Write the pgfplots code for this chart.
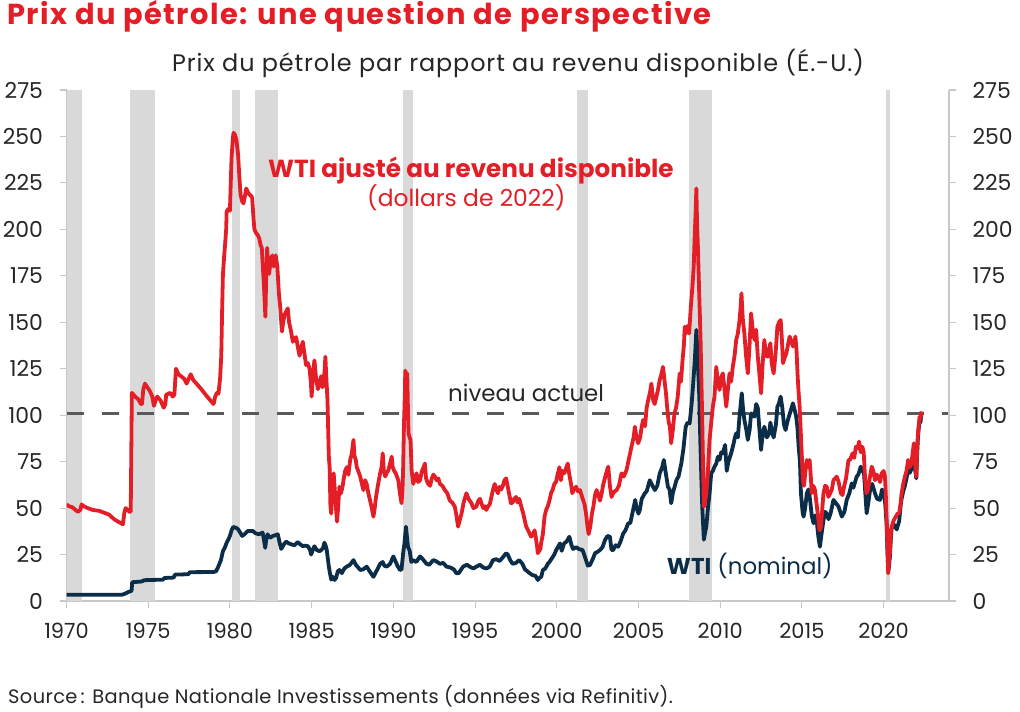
\documentclass[border=0pt]{standalone}
\usepackage{pgfplots}
\pgfplotsset{compat=1.18}
\usepackage{pgfplotstable}
\usepackage{fontspec}
\setmainfont{Poppins}
\definecolor{wtired}{HTML}{E41E26}
\definecolor{wtinavy}{HTML}{0C2D48}
\definecolor{bandgray}{HTML}{D9D9D9}
\definecolor{dashgray}{HTML}{5A5A5A}
\definecolor{axisgray}{HTML}{C8C8C8}
\definecolor{txt}{HTML}{262626}

\pgfplotstableread{
x y
1970.00 52
1970.15 51
1970.35 50.5
1970.55 49
1970.70 48
1970.85 49
1970.92 52
1971.05 51
1971.3 50
1971.6 49
1972.0 48.5
1972.3 47.5
1972.6 46.5
1972.85 44.5
1973.0 43.5
1973.3 42
1973.45 41.3
1973.55 48
1973.62 50
1973.75 49
1973.85 48
1973.93 48
1974.0 112
1974.2 110
1974.4 108.5
1974.55 106
1974.62 106
1974.7 114
1974.8 117
1974.95 115
1975.1 113
1975.25 110
1975.35 105
1975.45 108
1975.55 110
1975.75 108
1975.95 104
1976.05 106
1976.1 111
1976.35 112
1976.5 110
1976.6 111
1976.7 125
1976.85 122
1977.0 121
1977.2 119.6
1977.35 117
1977.5 120
1977.6 122
1977.75 119
1977.95 117
1978.25 114
1978.55 110.6
1978.8 108
1979.0 106
1979.1 110
1979.2 112
1979.3 111.5
1979.4 120
1979.47 132
1979.52 155
1979.57 175.5
1979.65 186
1979.71 192.6
1979.77 200
1979.8 209.7
1979.9 211
1980.0 210
1980.05 225
1980.1 238.6
1980.18 249
1980.22 252
1980.3 251
1980.4 248
1980.5 240
1980.58 228
1980.65 218.7
1980.75 215
1980.83 214
1980.92 218
1981.0 222
1981.1 220
1981.2 218.7
1981.3 218
1981.36 217
1981.45 205
1981.5 200
1981.6 198
1981.7 197
1981.8 195
1981.87 191.7
1981.95 190
1982.0 182
1982.08 170
1982.13 160
1982.17 153
1982.22 175
1982.28 190
1982.33 182
1982.4 176
1982.5 184
1982.6 186
1982.67 180
1982.73 183
1982.8 186
1982.9 180
1983.0 165
1983.08 158
1983.18 145
1983.26 150
1983.34 154
1983.45 156
1983.54 157.5
1983.62 150
1983.72 146
1983.85 139.5
1983.95 141
1984.05 142
1984.15 137
1984.26 132
1984.36 136
1984.46 139.5
1984.56 133
1984.66 127
1984.77 128
1984.87 125
1984.95 118
1985.0 110
1985.08 122
1985.17 129.5
1985.27 120
1985.38 114
1985.48 117
1985.58 121
1985.66 115
1985.74 117.8
1985.8 125
1985.84 131.5
1985.9 120
1985.97 108
1986.05 78
1986.1 72
1986.15 51
1986.2 47
1986.27 65
1986.35 68.7
1986.45 55
1986.55 42.7
1986.62 50
1986.7 61.5
1986.8 58
1986.9 62
1986.95 65
1987.05 70
1987.15 72
1987.25 68
1987.36 76
1987.45 79
1987.56 86.7
1987.62 78
1987.7 76
1987.76 72
1987.85 70
1987.97 67
1988.05 64
1988.17 59.7
1988.27 65
1988.37 63
1988.47 58
1988.58 54
1988.68 50
1988.78 45.4
1988.86 50
1988.94 56
1989.05 62
1989.19 68.7
1989.28 72
1989.35 79.5
1989.42 70
1989.5 67
1989.6 69
1989.7 70.5
1989.8 74
1989.9 77.7
1989.96 72
1990.05 70
1990.15 68.7
1990.3 65
1990.4 58
1990.5 52.6
1990.56 60
1990.6 72
1990.65 95
1990.7 110
1990.73 124
1990.8 118
1990.85 122.5
1990.9 100
1990.93 90
1991.0 88
1991.05 86.7
1991.12 70
1991.22 63
1991.3 66
1991.42 68.7
1991.52 64
1991.63 65
1991.75 70
1991.85 72
1991.93 74
1992.0 66
1992.13 63
1992.25 62
1992.35 66
1992.45 68
1992.54 67
1992.65 65
1992.75 66
1992.85 63
1993.0 62
1993.15 59.7
1993.3 58
1993.46 54
1993.6 53
1993.76 50.8
1993.86 46
1993.96 40
1994.05 43
1994.17 47
1994.3 53
1994.47 58
1994.6 55
1994.78 52.6
1994.9 50
1995.08 50.8
1995.2 54
1995.3 55
1995.39 52.6
1995.5 50
1995.6 51
1995.69 49
1995.8 51
1995.9 52
1996.0 56
1996.1 60
1996.2 63
1996.3 60
1996.4 58
1996.5 61.5
1996.6 60
1996.7 62
1996.8 65
1996.9 66
1997.0 61.5
1997.1 57
1997.2 52.6
1997.3 53
1997.4 55
1997.5 56
1997.6 53
1997.7 55
1997.83 50.8
1997.95 47
1998.05 43
1998.13 40
1998.25 38
1998.35 36
1998.43 34.6
1998.55 36
1998.64 38
1998.72 34
1998.8 29
1998.84 25.7
1998.92 27
1999.0 28
1999.04 31
1999.15 36
1999.25 45.4
1999.35 49
1999.45 51
1999.55 54
1999.65 58
1999.75 60
1999.85 63
1999.95 64
2000.05 68
2000.16 72
2000.25 65
2000.35 70
2000.46 68.7
2000.55 71
2000.67 74
2000.75 69
2000.87 63
2000.95 58
2001.05 60
2001.18 61.5
2001.3 59
2001.42 59.7
2001.55 56
2001.7 52
2001.79 47
2001.88 40
2001.95 36
2002.05 40
2002.15 47
2002.24 50.8
2002.34 57
2002.44 59.7
2002.55 57
2002.64 54
2002.75 58
2002.85 63
2003.0 68
2003.1 71
2003.15 72.3
2003.25 62
2003.35 56
2003.45 58
2003.55 59
2003.66 59.7
2003.8 62
2003.96 68.7
2004.1 67
2004.27 70.5
2004.4 76
2004.5 80
2004.57 83
2004.7 88
2004.78 93.8
2004.88 88
2004.98 84.9
2005.1 88
2005.2 94
2005.28 97.4
2005.4 94
2005.5 104
2005.59 108
2005.7 112
2005.79 117
2005.9 108
2005.99 106
2006.1 110
2006.2 114
2006.3 119
2006.4 122
2006.5 126
2006.6 118
2006.68 112
2006.75 104.6
2006.85 96
2006.92 94
2007.0 84.9
2007.1 92
2007.2 101
2007.3 104
2007.4 110
2007.52 122.5
2007.6 118
2007.7 130
2007.78 138
2007.83 147.6
2007.92 144
2008.0 148
2008.1 144
2008.2 158
2008.3 169
2008.38 180
2008.43 194.3
2008.5 210
2008.54 222
2008.58 205
2008.64 189
2008.7 170
2008.74 158.4
2008.8 140
2008.84 122.5
2008.9 98
2008.94 77.7
2009.0 50.8
2009.05 52
2009.15 58
2009.25 70
2009.35 86.7
2009.45 96
2009.55 104.6
2009.65 110
2009.76 126
2009.85 118
2009.96 113.6
2010.05 120
2010.16 122.5
2010.25 115
2010.37 104.6
2010.45 112
2010.57 122.5
2010.67 118
2010.77 126
2010.88 132
2010.98 140.5
2011.08 144
2011.18 151
2011.25 158
2011.3 165.6
2011.38 152
2011.48 144
2011.58 132
2011.69 122.5
2011.78 135
2011.89 154.8
2012.0 145
2012.1 140.5
2012.2 146
2012.3 131.5
2012.4 122
2012.5 111.8
2012.6 128
2012.7 140.5
2012.8 132
2012.9 131.5
2013.0 136
2013.07 138.7
2013.15 128
2013.27 122.5
2013.38 132
2013.5 147.6
2013.6 150
2013.7 151.2
2013.78 140
2013.84 128
2013.95 131
2014.05 133.3
2014.15 138
2014.25 142.3
2014.35 140
2014.45 137
2014.55 139
2014.6 142.3
2014.67 135
2014.74 120.7
2014.8 112
2014.86 104.6
2014.96 84.9
2015.06 65
2015.13 62
2015.2 68.7
2015.3 75.9
2015.4 72
2015.47 75.9
2015.55 66
2015.6 58
2015.7 62
2015.8 59.7
2015.9 52
2016.0 44.3
2016.08 38
2016.16 40
2016.25 50
2016.32 58
2016.42 62
2016.52 61.5
2016.62 56
2016.73 58
2016.83 60
2016.93 65
2017.03 66
2017.13 66.9
2017.25 64
2017.38 58
2017.48 57
2017.58 61.5
2017.7 66
2017.85 75.9
2017.95 76
2018.1 79.5
2018.2 77
2018.3 83
2018.4 82
2018.5 85.8
2018.6 80
2018.7 83
2018.78 80
2018.86 66.9
2018.95 58
2019.05 60
2019.15 66
2019.27 72.3
2019.37 70
2019.47 65
2019.57 68
2019.67 66.9
2019.78 64
2019.88 68.7
2020.0 70
2020.08 66.9
2020.13 58
2020.18 44.3
2020.23 30
2020.28 14.9
2020.33 22
2020.38 25.7
2020.45 38
2020.55 41.8
2020.65 44
2020.75 45.4
2020.85 47
2020.95 47.2
2021.03 52
2021.1 58
2021.2 63
2021.3 66.9
2021.4 70
2021.5 75.9
2021.6 72
2021.7 74
2021.78 80
2021.85 84.9
2021.92 74
2022.0 66.9
2022.05 82
2022.1 90.2
2022.15 95
2022.2 99.2
2022.25 98
2022.32 102
}\realtable

\pgfplotstableread{
x y
1970.0 3.4
1973.4 3.4
1973.6 4.0
1973.75 4.7
1973.9 5.2
1973.98 5.5
1974.02 10.1
1974.6 10.5
1974.75 11.2
1975.9 11.5
1976.0 12.4
1976.55 12.6
1976.65 14.2
1977.45 14.4
1977.55 15.5
1979.0 15.6
1979.15 16
1979.3 18.7
1979.45 22
1979.57 26.8
1979.7 29
1979.8 31.4
1979.9 33
1980.0 35
1980.1 38
1980.2 39.8
1980.35 39.5
1980.5 38.6
1980.65 36.5
1980.75 35
1980.9 36
1981.1 37.7
1981.4 37.7
1981.55 36.5
1981.77 35.9
1982.0 36.8
1982.08 33
1982.16 28.6
1982.22 33
1982.3 35.9
1982.45 34
1982.63 35
1982.8 35.5
1982.93 35.9
1983.05 31
1983.14 28
1983.3 30.5
1983.44 32
1983.6 31
1983.75 30.5
1983.95 30
1984.15 31.7
1984.3 30.5
1984.46 29.5
1984.6 29.8
1984.77 29.5
1984.9 27.5
1984.97 25
1985.07 27.5
1985.17 29.5
1985.3 27.5
1985.48 26.8
1985.6 27.5
1985.7 28.5
1985.78 31.4
1985.85 30
1985.92 27.7
1986.05 18.7
1986.12 15
1986.2 11.5
1986.3 13
1986.4 11.3
1986.5 12.5
1986.6 16
1986.7 16.7
1986.85 15
1987.0 17.5
1987.15 18.5
1987.35 19.5
1987.56 22
1987.7 19.5
1987.85 18
1987.97 16.7
1988.15 17
1988.37 18.5
1988.55 16
1988.78 13
1988.9 15
1989.05 17.5
1989.19 20
1989.35 21
1989.45 19
1989.6 18.5
1989.8 20
1990.0 24
1990.1 22
1990.25 19
1990.4 16.7
1990.5 17
1990.6 25.7
1990.68 31
1990.77 40
1990.85 33
1990.9 29
1991.0 27
1991.1 21
1991.2 22
1991.4 21
1991.63 24
1991.8 22.5
1992.03 20
1992.2 19.5
1992.44 22
1992.6 21.5
1992.85 20
1993.05 20.5
1993.25 18.5
1993.5 18
1993.7 17
1993.86 14.9
1994.0 15
1994.27 18.5
1994.5 19.5
1994.67 18.5
1994.9 17.5
1995.08 18.5
1995.3 19.5
1995.5 18
1995.7 17.5
1995.9 18.5
1996.1 22
1996.3 22.5
1996.5 21.5
1996.7 23.5
1996.9 25.7
1997.0 25
1997.15 22
1997.3 20
1997.5 20.5
1997.7 22
1997.9 20
1998.05 17
1998.2 16
1998.35 14.9
1998.5 14
1998.7 13.5
1998.84 11.3
1998.95 12.5
1999.05 13
1999.15 16.7
1999.3 17.5
1999.45 20
1999.55 21
1999.7 23
1999.85 25
1999.96 27.4
2000.1 29.5
2000.2 31
2000.3 27
2000.45 31
2000.6 32
2000.77 34.6
2000.9 30
2001.0 28
2001.18 29
2001.35 28
2001.58 27.4
2001.75 23
2001.9 19
2002.03 19.4
2002.2 22.5
2002.34 25.7
2002.5 26.5
2002.64 27.4
2002.8 29
2002.95 32.8
2003.1 35
2003.25 34.6
2003.35 27.5
2003.45 27.4
2003.6 30
2003.76 29.2
2003.9 32
2004.07 36.4
2004.2 38
2004.37 41.8
2004.5 42
2004.67 49
2004.8 54.4
2004.88 50
2005.0 47
2005.08 49
2005.2 55
2005.39 58
2005.5 59
2005.69 65
2005.8 63
2006.0 59.7
2006.15 62
2006.3 68.7
2006.45 72
2006.55 75.9
2006.65 70
2006.8 61.5
2006.9 60
2007.0 52.6
2007.1 58
2007.32 65
2007.45 67
2007.62 74
2007.75 82
2007.89 93.8
2008.0 96
2008.13 95.6
2008.25 106
2008.33 115
2008.45 130
2008.54 145.9
2008.6 135
2008.66 122.5
2008.72 110
2008.78 86.7
2008.84 68
2008.9 50.8
2008.96 40
2009.0 33
2009.08 37
2009.15 40
2009.25 50
2009.35 58
2009.45 68.7
2009.55 70
2009.65 72.3
2009.76 74
2009.86 77.7
2009.96 76
2010.06 80
2010.16 79.5
2010.3 84
2010.4 70
2010.5 75
2010.67 79.5
2010.8 84
2010.9 88
2010.98 90.2
2011.08 88
2011.18 99.2
2011.32 111.8
2011.4 103
2011.48 97.4
2011.6 92
2011.69 86.7
2011.8 92
2011.89 101
2012.0 100
2012.1 99.2
2012.2 106
2012.3 104
2012.42 90
2012.5 81.3
2012.6 90
2012.7 93.8
2012.85 88
2013.0 90.2
2013.07 96
2013.15 92
2013.27 88
2013.41 95
2013.5 104.6
2013.58 106
2013.7 110
2013.8 104
2013.9 95
2014.0 92
2014.1 96
2014.2 99.2
2014.3 102
2014.45 106.4
2014.55 103
2014.65 99.2
2014.73 93
2014.8 83
2014.88 75
2014.94 58
2015.04 48
2015.1 45.4
2015.2 50
2015.3 58
2015.4 60
2015.5 54.4
2015.6 46
2015.71 41.8
2015.8 46
2015.9 43.6
2016.0 35
2016.1 29.2
2016.2 36
2016.32 43.6
2016.42 48
2016.52 47
2016.63 44
2016.75 47
2016.93 54.4
2017.05 53
2017.24 50.8
2017.44 45.4
2017.6 48
2017.74 54.4
2017.9 58
2018.05 63.3
2018.15 61
2018.35 66.9
2018.45 68
2018.6 72.3
2018.7 70
2018.8 68.7
2018.88 58
2018.96 47.2
2019.05 52
2019.17 59.7
2019.3 63
2019.47 58
2019.6 55
2019.78 54.4
2019.9 60
2020.02 58
2020.1 52
2020.18 41.8
2020.23 28
2020.28 15.5
2020.33 19
2020.38 23.5
2020.45 35
2020.5 40
2020.65 41
2020.8 38.5
2020.95 43
2021.05 52
2021.1 55
2021.2 59
2021.3 62
2021.4 66
2021.5 71.5
2021.6 69
2021.7 71
2021.78 77
2021.85 81
2021.92 71
2022.0 66
2022.05 79
2022.1 88
2022.15 93
2022.2 97
2022.25 96
2022.32 101
}\nomtable

\pgfplotsset{
  common/.style={
    at={(66.5bp,111bp)}, anchor=south west,
    scale only axis, width=882.5bp, height=511bp,
    xmin=1970, xmax=2024, ymin=0, ymax=275,
    ytick={0,25,...,275},
    tick align=outside,
    major tick length=7bp,
    axis line style={axisgray, line width=1.1bp},
    tick style={axisgray, line width=1.1bp},
    ticklabel style={font=\fontsize{22}{26}\selectfont, text=txt},
    /pgf/number format/assume math mode=true,
    /pgf/number format/1000 sep={},
  }
}

\begin{document}
\begin{tikzpicture}
\useasboundingbox (0,0) rectangle (1020bp,712bp);
\begin{axis}[common,
  axis x line*=bottom, axis y line*=left,
  xtick={1970,1975,...,2020},
  xticklabel style={yshift=-12bp, font=\fontsize{21}{25}\selectfont},
  yticklabel style={xshift=-13bp},
  clip=true]
  % recession bands
  \addplot[draw=none, fill=bandgray] coordinates {(1970.05,0) (1970.05,275) (1970.95,275) (1970.95,0)} -- cycle;
  \addplot[draw=none, fill=bandgray] coordinates {(1973.87,0) (1973.87,275) (1975.4,275) (1975.4,0)} -- cycle;
  \addplot[draw=none, fill=bandgray] coordinates {(1980.1,0) (1980.1,275) (1980.6,275) (1980.6,0)} -- cycle;
  \addplot[draw=none, fill=bandgray] coordinates {(1981.55,0) (1981.55,275) (1982.95,275) (1982.95,0)} -- cycle;
  \addplot[draw=none, fill=bandgray] coordinates {(1990.6,0) (1990.6,275) (1991.2,275) (1991.2,0)} -- cycle;
  \addplot[draw=none, fill=bandgray] coordinates {(2001.22,0) (2001.22,275) (2001.88,275) (2001.88,0)} -- cycle;
  \addplot[draw=none, fill=bandgray] coordinates {(2008.1,0) (2008.1,275) (2009.5,275) (2009.5,0)} -- cycle;
  \addplot[draw=none, fill=bandgray] coordinates {(2020.12,0) (2020.12,275) (2020.38,275) (2020.38,0)} -- cycle;
  % current level
  \addplot[dashgray, line width=3.2bp, dash pattern=on 17bp off 18bp] coordinates {(1970,101) (2024,101)};
  % series
  \addplot[wtinavy, line width=3.8bp, line join=round] table[x=x,y=y] {\nomtable};
  \addplot[wtired, line width=3.8bp, line join=round] table[x=x,y=y] {\realtable};
\end{axis}
\begin{axis}[common,
  axis x line=none, axis y line*=right,
  yticklabel style={xshift=13bp}]
\end{axis}
\node[anchor=base west, inner sep=0, text=wtired, font=\fontsize{29}{33}\selectfont\bfseries\addfontfeature{LetterSpace=5}] at (7bp,687bp) {Prix du pétrole: une question de perspective};
\node[anchor=base west, inner sep=0, text=txt, font=\fontsize{24}{28}\selectfont\addfontfeature{LetterSpace=3.7}] at (172bp,640bp) {Prix du pétrole par rapport au revenu disponible (É.-U.)};
\node[anchor=base west, inner sep=0, text=wtired, font=\fontsize{24.8}{28}\selectfont\bfseries] at (268bp,534bp) {WTI ajusté au revenu disponible};
\node[anchor=base west, inner sep=0, text=wtired, font=\fontsize{23.5}{26}\selectfont] at (367bp,505bp) {(dollars de 2022)};
\node[anchor=base west, inner sep=0, text=txt, font=\fontsize{23}{26}\selectfont] at (448bp,310bp) {niveau actuel};
\node[anchor=base west, inner sep=0, text=wtinavy, font=\fontsize{23}{28}\selectfont] at (666.7bp,137bp) {\textbf{WTI} (nominal)};
\node[anchor=base west, inner sep=0, text=txt, font=\fontsize{19.5}{22}\selectfont\addfontfeature{LetterSpace=2}] at (8bp,9bp) {Source\,: Banque Nationale Investissements (données via Refinitiv).};
\end{tikzpicture}
\end{document}
